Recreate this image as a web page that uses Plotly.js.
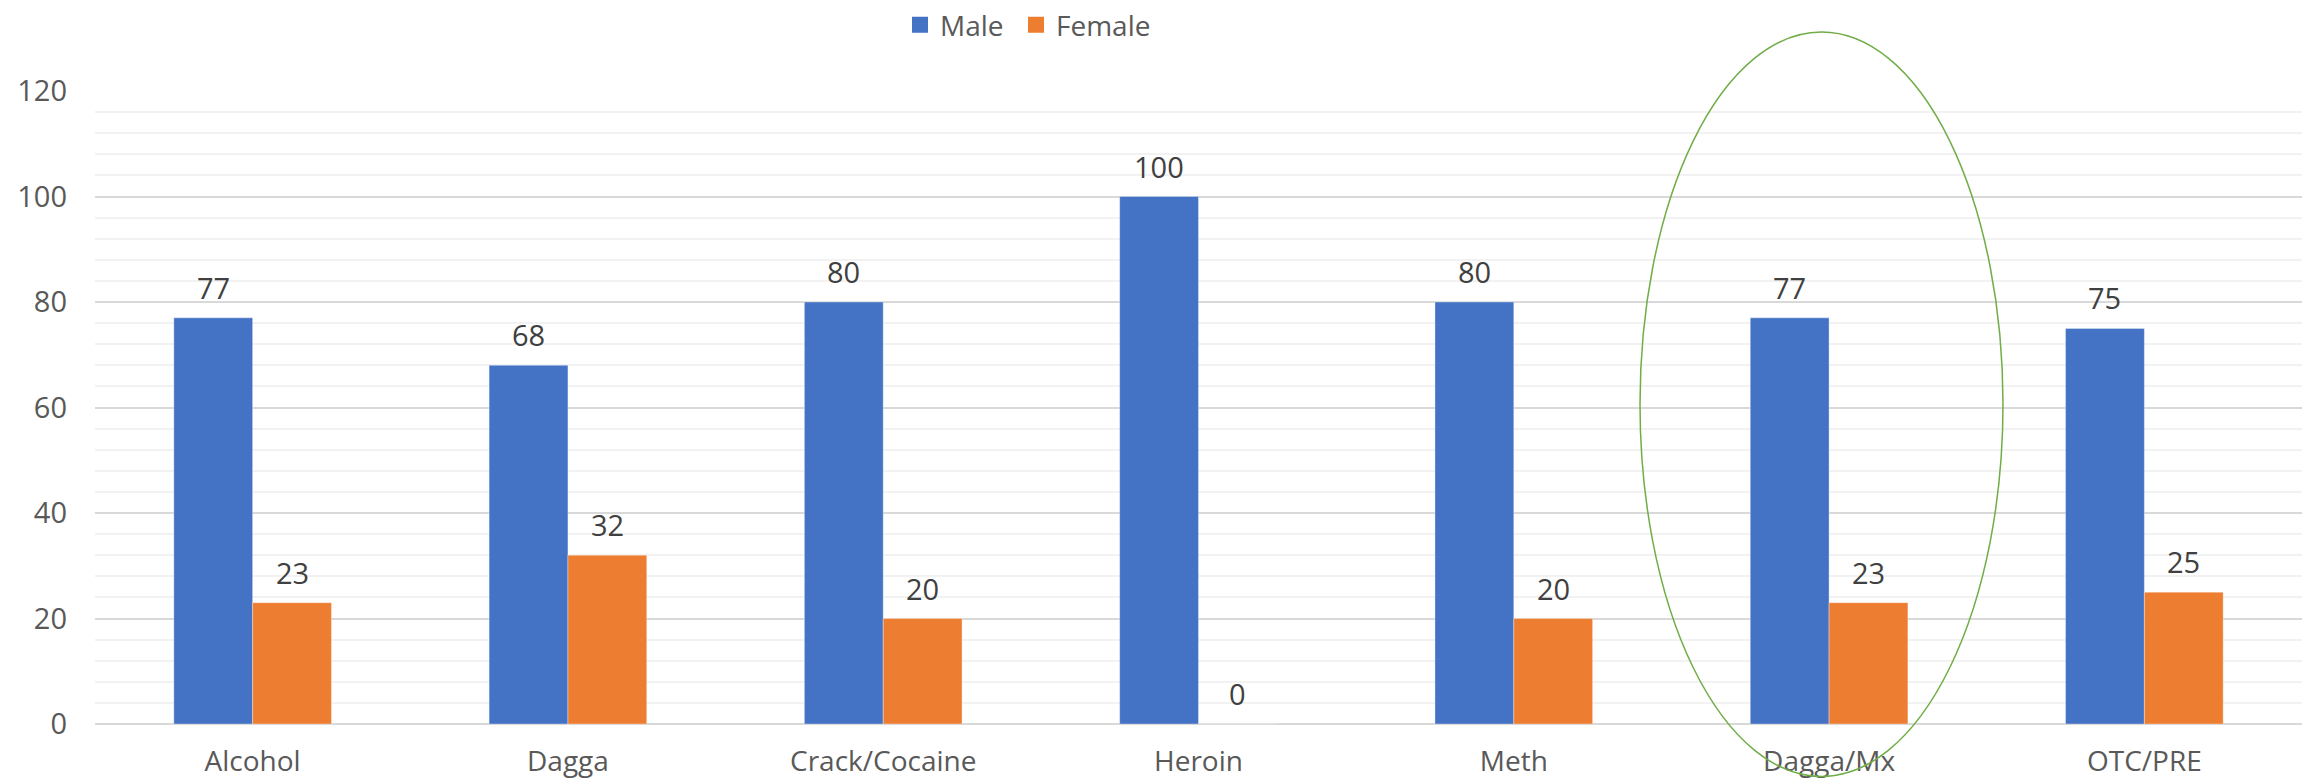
<!DOCTYPE html>
<html>
<head>
<meta charset="utf-8">
<script src="https://cdn.plot.ly/plotly-3.0.1.min.js"></script>
<style>html,body{margin:0;padding:0;background:#fff;}#chart{width:2311px;height:782px;}</style>
</head>
<body>
<div id="chart"></div>
<script>
const categories = ["Alcohol", "Dagga", "Crack/Cocaine", "Heroin", "Meth", "Dagga/Mx", "OTC/PRE"];
const maleValues = [77, 68, 80, 100, 80, 77, 75];
const femaleValues = [23, 32, 20, 0, 20, 23, 25];
const seriesNames = ["Male", "Female"];
const seriesColors = ["#4472C4", "#ED7D31"];
const yTickValues = [0, 20, 40, 60, 80, 100, 120];

const W = 2311, H = 782;
const margin = {l: 95, r: 9, t: 91, b: 57.5, autoexpand: false};
const plotW = W - margin.l - margin.r;
const plotH = H - margin.t - margin.b;
const band = plotW / categories.length;
const barW = band * 0.25;

const font = "Open Sans, Noto Sans, sans-serif";
const seriesValues = [maleValues, femaleValues];
const traces = [];
seriesValues.forEach((vals, si) => {
  traces.push({type: "bar", name: seriesNames[si], x: categories, y: vals, showlegend: false,
    marker: {color: seriesColors[si], line: {color: "rgba(255,255,255,0.35)", width: 1}}, hoverinfo: "x+y"});
});
// legend entries (square swatches)
seriesNames.forEach((nm, si) => {
  traces.push({type: "scatter", mode: "markers", name: nm, x: [null], y: [null],
    legend: si === 0 ? "legend" : "legend2",
    marker: {symbol: "square", size: 16, color: seriesColors[si]}, hoverinfo: "skip"});
});

const annotations = [];
seriesValues.forEach((vals, si) => {
  vals.forEach((v, i) => {
    annotations.push({
      x: categories[i], y: v, xref: "x", yref: "y",
      text: String(v), showarrow: false, yanchor: "bottom",
      xshift: (si === 0 ? -1 : 1) * barW / 2, yshift: 9,
      font: {family: font, size: 29, color: "#404040"}
    });
  });
});

const legendY = 1 + (margin.t - 25) / plotH;
const legendBase = {orientation: "h", xanchor: "left", y: legendY, yanchor: "middle",
  font: {family: font, size: 28, color: "#595959"}, itemwidth: 30, bgcolor: "rgba(0,0,0,0)"};

const layout = {
  width: W, height: H, margin: margin,
  paper_bgcolor: "#ffffff", plot_bgcolor: "#ffffff",
  barmode: "group", bargap: 0.5, bargroupgap: 0,
  font: {family: font, size: 29, color: "#595959"},
  showlegend: true,
  legend: Object.assign({}, legendBase, {x: (900 - margin.l) / plotW}),
  legend2: Object.assign({}, legendBase, {x: (1016 - margin.l) / plotW}),
  xaxis: {type: "category", showgrid: false, zeroline: false, showline: false, ticks: "",
          tickfont: {family: font, size: 28, color: "#595959"}, ticklabelstandoff: 18, fixedrange: true},
  yaxis: {range: [0, 120], tickvals: yTickValues, showgrid: true, gridcolor: "#D9D9D9", gridwidth: 2,
          zeroline: true, zerolinecolor: "#D9D9D9", zerolinewidth: 2, showline: false, ticks: "",
          minor: {dtick: 4, showgrid: true, gridcolor: "#F2F2F2", gridwidth: 2},
          tickfont: {family: font, size: 29, color: "#595959"}, ticklabelstandoff: 27, fixedrange: true},
  annotations: annotations,
  shapes: [{type: "circle", xref: "paper", yref: "paper",
            x0: (1640 - margin.l) / plotW, x1: (2003 - margin.l) / plotW,
            y0: -0.0829, y1: 1.0931,
            line: {color: "#70AD47", width: 1.5}, fillcolor: "rgba(0,0,0,0)", layer: "above"}]
};

Plotly.newPlot("chart", traces, layout, {displayModeBar: false, staticPlot: true});
</script>
</body>
</html>
